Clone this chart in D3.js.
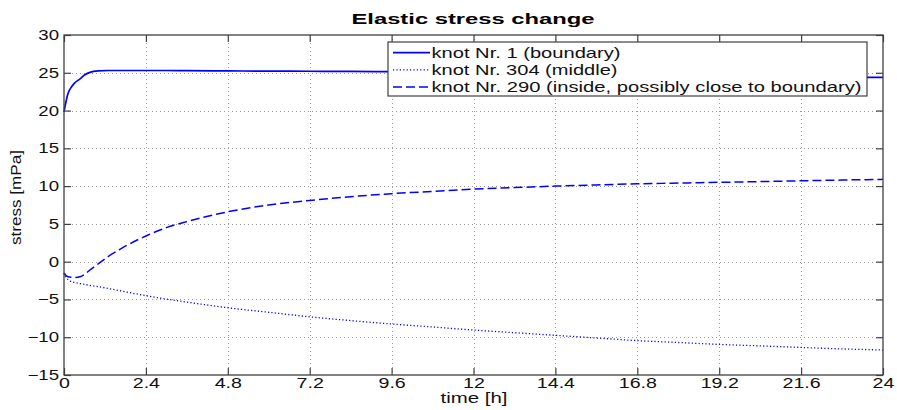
<!DOCTYPE html>
<html>
<head>
<meta charset="utf-8">
<script src="https://cdn.jsdelivr.net/npm/d3@7"></script>
<style>
  html, body { margin: 0; padding: 0; background: #fff; }
  svg { display: block; font-family: "Liberation Sans", Arial, Helvetica, sans-serif; }
</style>
</head>
<body>
<svg id="chart" width="897" height="410"></svg>
<script>
// Sample times (hours)
const times = [0, 0.05, 0.12, 0.2, 0.3, 0.47, 0.6, 0.76, 1.0, 1.3, 1.7, 2.4, 3.0, 3.6, 4.8, 6.0, 7.2, 8.4, 9.6, 10.8, 12, 13.2, 14.4, 15.6, 16.8, 18, 19.2, 20.4, 21.6, 22.8, 23.4, 23.5, 24];

// Stress at knot 1 (boundary)
const knot1 = [19.8, 21.0, 22.3, 23.0, 23.6, 24.2, 24.7, 25.05, 25.25, 25.3, 25.3, 25.3, 25.3, 25.28, 25.25, 25.22, 25.2, 25.18, 25.15, 25.12, 25.1, 25.08, 25.05, 25.03, 25.0, 24.98, 24.96, 24.94, 24.92, 24.9, 24.9, 24.4, 24.4];

// Stress at knot 304 (middle)
const knot304 = [-1.5, -2.0, -2.4, -2.6, -2.75, -2.9, -3.0, -3.15, -3.3, -3.55, -3.9, -4.5, -4.95, -5.35, -6.1, -6.7, -7.3, -7.8, -8.25, -8.65, -9.05, -9.4, -9.75, -10.1, -10.45, -10.7, -10.95, -11.15, -11.35, -11.55, -11.62, -11.63, -11.7];

// Stress at knot 290 (inside, possibly close to boundary)
const knot290 = [-1.5, -1.8, -2.0, -2.05, -2.1, -2.0, -1.7, -1.1, -0.3, 0.7, 1.8, 3.4, 4.5, 5.3, 6.6, 7.5, 8.1, 8.6, 9.0, 9.3, 9.6, 9.8, 10.0, 10.15, 10.3, 10.4, 10.5, 10.6, 10.7, 10.8, 10.85, 10.85, 10.9];

const xTicks = [0, 2.4, 4.8, 7.2, 9.6, 12, 14.4, 16.8, 19.2, 21.6, 24];
const yTicks = [-15, -10, -5, 0, 5, 10, 15, 20, 25, 30];

const seriesNames = [
  "knot Nr. 1 (boundary)",
  "knot Nr. 304 (middle)",
  "knot Nr. 290 (inside, possibly close to boundary)"
];
const seriesValues = [knot1, knot304, knot290];
const seriesDash = [null, "1.2,2.2", "9,4"];
const seriesWidth = [1.7, 1.3, 1.5];

const svg = d3.select("#chart");
const margin = { left: 64, right: 14, top: 35, bottom: 35 };
const W = 897, H = 410;
const x = d3.scaleLinear().domain([0, 24]).range([margin.left, W - margin.right]);
const y = d3.scaleLinear().domain([-15, 30]).range([H - margin.bottom, margin.top]);

// Widen text glyphs horizontally (the figure uses a broad sans face)
function widen(sel, factor) {
  sel.each(function () {
    const w = this.getComputedTextLength();
    this.setAttribute("textLength", w * factor);
    this.setAttribute("lengthAdjust", "spacingAndGlyphs");
  });
}
function fitWidth(sel, width) {
  sel.attr("textLength", width).attr("lengthAdjust", "spacingAndGlyphs");
}

svg.append("rect").attr("width", W).attr("height", H).attr("fill", "#fff");

// Grid
const grid = svg.append("g").attr("stroke", "#9a9a9a").attr("stroke-width", 1).attr("stroke-dasharray", "1,3");
grid.selectAll(".gx").data(xTicks.slice(1, -1)).join("line")
  .attr("x1", d => Math.round(x(d)) + 0.5).attr("x2", d => Math.round(x(d)) + 0.5)
  .attr("y1", y(30)).attr("y2", y(-15));
grid.selectAll(".gy").data(yTicks.slice(1, -1)).join("line")
  .attr("y1", d => Math.round(y(d)) + 0.5).attr("y2", d => Math.round(y(d)) + 0.5)
  .attr("x1", x(0)).attr("x2", x(24));

// Axes with inward ticks
const axisColor = "#404040";
const tickLen = 7;
const axBottom = svg.append("g").attr("transform", `translate(0,${y(-15)})`)
  .call(d3.axisBottom(x).tickValues(xTicks).tickSize(-tickLen).tickPadding(3).tickFormat(d3.format("")));
const axLeft = svg.append("g").attr("transform", `translate(${x(0)},0)`)
  .call(d3.axisLeft(y).tickValues(yTicks).tickSize(-tickLen).tickPadding(5).tickFormat(d => d < 0 ? "\u2212" + Math.abs(d) : d));
const axTop = svg.append("g").attr("transform", `translate(0,${y(30)})`)
  .call(d3.axisTop(x).tickValues(xTicks).tickSize(-tickLen).tickFormat(""));
const axRight = svg.append("g").attr("transform", `translate(${x(24)},0)`)
  .call(d3.axisRight(y).tickValues(yTicks).tickSize(-tickLen).tickFormat(""));
[axBottom, axLeft, axTop, axRight].forEach(g => {
  g.select(".domain").remove();
  g.selectAll("line").attr("stroke", axisColor).attr("stroke-width", 1.2);
  g.selectAll("text").attr("fill", "#111").style("font-size", "14px").style("font-family", "Liberation Sans, Arial, sans-serif");
});
widen(axBottom.selectAll("text"), 1.4);
widen(axLeft.selectAll("text"), 1.33);

// Lines
const line = d3.line().x((d, i) => x(times[i])).y(d => y(d)).curve(d3.curveMonotoneX);
seriesValues.forEach((vals, k) => {
  svg.append("path").datum(vals)
    .attr("d", line)
    .attr("fill", "none")
    .attr("stroke", "#0000ff")
    .attr("stroke-width", seriesWidth[k])
    .attr("stroke-dasharray", seriesDash[k]);
});

// Plot box
svg.append("rect")
  .attr("x", x(0)).attr("y", y(30))
  .attr("width", x(24) - x(0)).attr("height", y(-15) - y(30))
  .attr("fill", "none").attr("stroke", axisColor).attr("stroke-width", 1.3);

// Legend
const legendWidths = [189, 186, 430];
const lg = svg.append("g").attr("transform", "translate(388,42)");
lg.append("rect").attr("width", 479).attr("height", 54)
  .attr("fill", "#fff").attr("stroke", axisColor).attr("stroke-width", 1.2);
seriesNames.forEach((name, k) => {
  const cy = 10.7 + k * 17.2;
  lg.append("line").attr("x1", 5).attr("x2", 42).attr("y1", cy).attr("y2", cy)
    .attr("stroke", "#0000ff").attr("stroke-width", seriesWidth[k])
    .attr("stroke-dasharray", seriesDash[k]);
  lg.append("text").attr("x", 43.5).attr("y", cy + 5)
    .style("font-size", "14.5px").attr("fill", "#111").text(name)
    .call(fitWidth, legendWidths[k]);
});

// Titles
svg.append("text").attr("x", 473).attr("y", 24).attr("text-anchor", "middle")
  .style("font-size", "15.5px").style("font-weight", "bold").attr("fill", "#000")
  .text("Elastic stress change").call(fitWidth, 243);
svg.append("text").attr("x", 474).attr("y", 403).attr("text-anchor", "middle")
  .style("font-size", "14px").attr("fill", "#111").text("time [h]").call(fitWidth, 67);
svg.append("text").attr("transform", `translate(21,197.5) rotate(-90)`)
  .attr("text-anchor", "middle").style("font-size", "14px").attr("fill", "#111")
  .text("stress [mPa]").call(fitWidth, 95);
</script>
</body>
</html>
